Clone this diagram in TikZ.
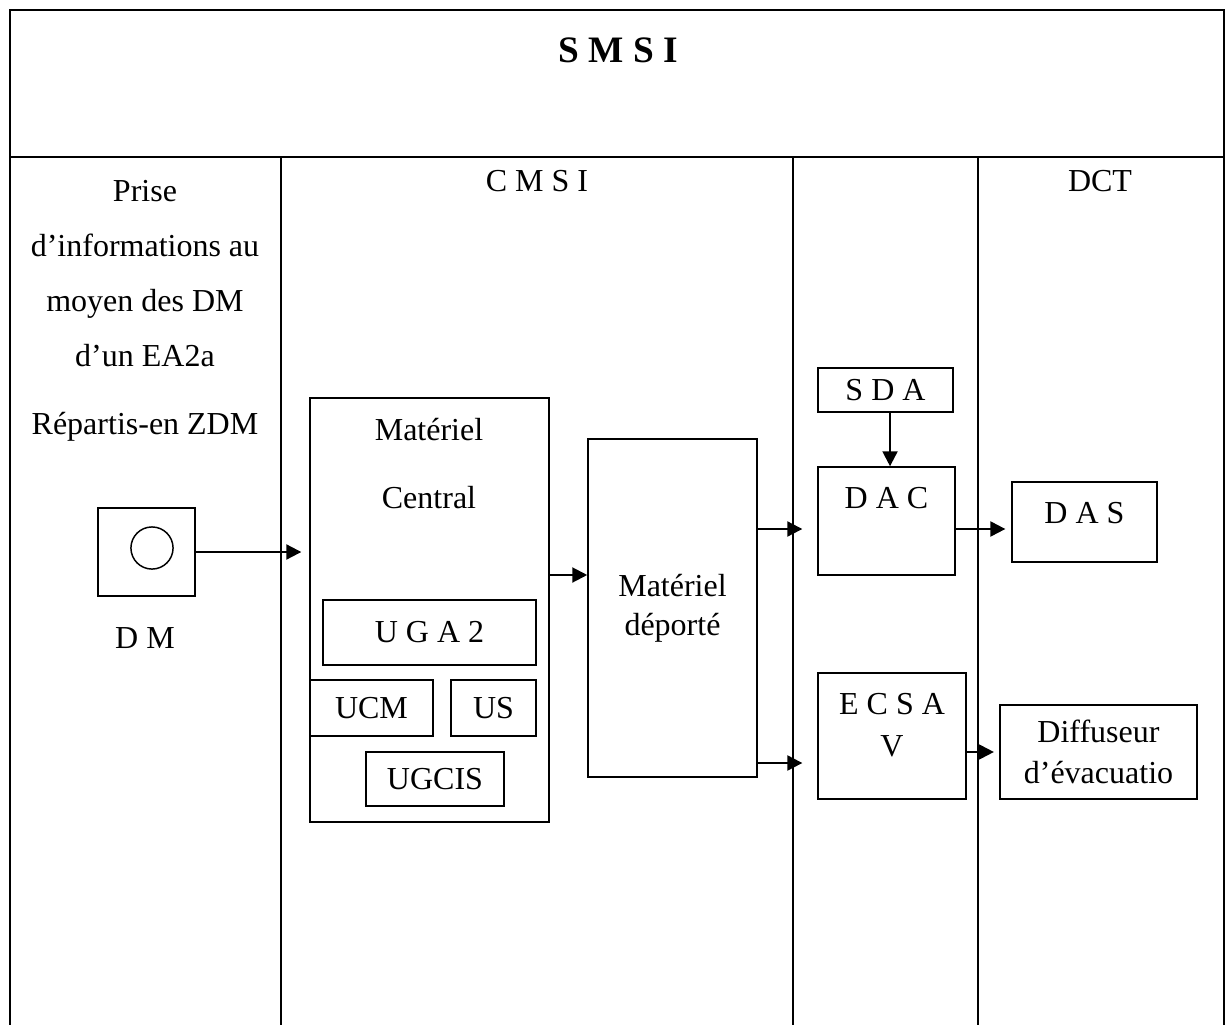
\documentclass[tikz,border=0pt]{standalone}
\usepackage{fontspec}
\setmainfont{Liberation Serif}
\usetikzlibrary{arrows.meta,positioning}
\tikzset{
  every node/.style={font=\fontsize{12}{14.5}\selectfont, text=black},
  frame/.style={draw=black, line width=1pt},
  lane/.style={draw=black, line width=0.9pt},
  box/.style={draw=black, line width=0.55pt, inner sep=0pt, align=center},
  flow/.style={-{Triangle[length=5.6pt,width=5.6pt]}, draw=black, line width=0.8pt},
}

\begin{document}
\begin{tikzpicture}[x=0.375pt,y=-0.375pt]
  \useasboundingbox (0,0) rectangle (1227,1025);
  % Table frame
  \draw[frame] (10,1025) -- (10,10) -- (1224,10) -- (1224,1025);
  \draw[frame] (10,157) -- (1224,157);
  \foreach \x in {281,793,978}
    \draw[lane] (\x,157) -- (\x,1025);
  % Headings
  \node (title) at (618,50) {\fontsize{14}{16}\selectfont\bfseries S M S I};
  \node (cmsi) at (537,181) {C M S I};
  \node (dct) at (1100,181) {DCT};
  % Column 1
  \node[align=center, font=\fontsize{12}{20.6}\selectfont] (info) at (145,311)
    {Prise\\d’informations au\\moyen des DM\\d’un EA2a\\[4.9pt]Répartis-en ZDM};
  \node[box, minimum width=36.4pt, minimum height=33pt] (dm) at (146.5,552) {};
  \node[draw=black, line width=0.55pt, circle, minimum size=15.8pt, inner sep=0pt] (dmc) at (152,548) {};
  \node (dmlabel) at (145,638) {D M};
  % Column 2
  \node[box, minimum width=89.6pt, minimum height=159pt] (mc) at (429.5,610) {};
  \node[align=center] (mctext) at (429,464) {Matériel\\[11pt]Central};
  \node[box, minimum width=79.9pt, minimum height=24.4pt] (uga) at (429.5,632.5) {U G A 2};
  \node[box, minimum width=46.1pt, minimum height=21pt] (ucm) at (371.5,708) {UCM};
  \node[box, minimum width=31.9pt, minimum height=21pt] (us) at (493.5,708) {US};
  \node[box, minimum width=51.75pt, minimum height=20.25pt] (ugcis) at (435,779) {UGCIS};
  \node[box, minimum width=63.4pt, minimum height=126.75pt] (md) at (672.5,608) {Matériel\\déporté};
  % Column 3
  \node[box, minimum width=50.6pt, minimum height=16.5pt] (sda) at (885.5,390) {S D A};
  \node[box, minimum width=51.4pt, minimum height=40.5pt,
    label={[anchor=center, yshift=8.6pt]center:D A C}] (dac) at (886.5,521) {};
  \node[box, minimum width=55.5pt, minimum height=47.25pt,
    label={[anchor=center, align=center, yshift=4.1pt]center:E C S A\\[1.2pt]V}] (ecsav) at (892,736) {};
  % Column 4
  \node[box, minimum width=54.4pt, minimum height=30pt,
    label={[anchor=center, yshift=3.4pt]center:D A S}] (das) at (1084.5,522) {};
  \node[box, minimum width=73.9pt, minimum height=35.25pt] (diff) at (1098.5,752) {Diffuseur\\[0.8pt]d’évacuatio};
  % Connectors
  \coordinate (lvA) at (0,529);
  \coordinate (lvB) at (0,763);
  \coordinate (lvC) at (0,575);
  \coordinate (lvD) at (0,752);
  \draw[flow, shorten >=3pt] (dm) -- (mc.west |- dm);
  \draw[flow] (mc.east |- lvC) -- (md.west |- lvC);
  \draw[flow, shorten >=5.6pt] (md.east |- lvA) -- (dac.west |- lvA);
  \draw[flow, shorten >=5.6pt] (md.east |- lvB) -- (ecsav.west |- lvB);
  \draw[flow] ([xshift=1.7pt]sda.south) -- ([xshift=1.7pt]sda.south |- dac.north);
  \draw[flow, shorten >=2.2pt] (dac.east |- lvA) -- (das.west |- lvA);
  \draw[flow, shorten >=2pt] (ecsav.east |- lvD) -- (diff.west |- lvD);
\end{tikzpicture}
\end{document}
